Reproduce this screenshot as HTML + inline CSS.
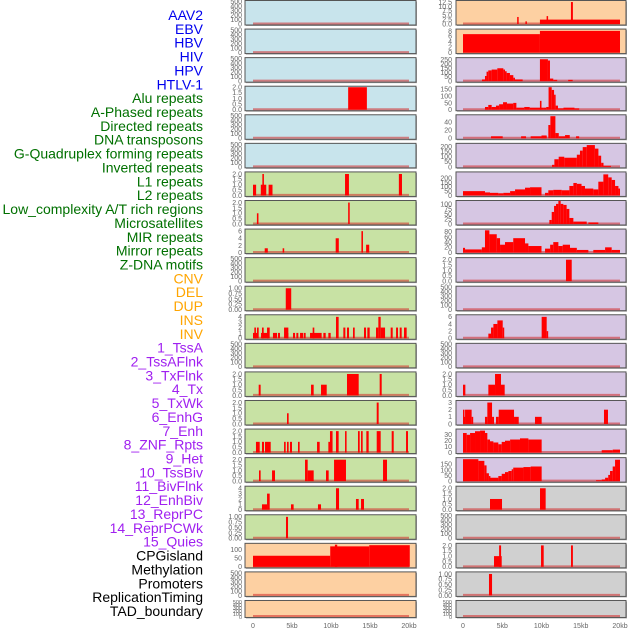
<!DOCTYPE html>
<html><head><meta charset="utf-8">
<style>
html,body{margin:0;padding:0;background:#fff;}
svg{display:block;font-family:"Liberation Sans",sans-serif;}
</style></head>
<body>
<svg id="chart" width="630" height="630" viewBox="0 0 630 630" xmlns="http://www.w3.org/2000/svg"></svg>
<script>
// ---- data ----
const trackLabels = ["AAV2","EBV","HBV","HIV","HPV","HTLV-1","Alu repeats","A-Phased repeats","Directed repeats","DNA transposons","G-Quadruplex forming repeats","Inverted repeats","L1 repeats","L2 repeats","Low_complexity A/T rich regions","Microsatellites","MIR repeats","Mirror repeats","Z-DNA motifs","CNV","DEL","DUP","INS","INV","1_TssA","2_TssAFlnk","3_TxFlnk","4_Tx","5_TxWk","6_EnhG","7_Enh","8_ZNF_Rpts","9_Het","10_TssBiv","11_BivFlnk","12_EnhBiv","13_ReprPC","14_ReprPCWk","15_Quies","CPGisland","Methylation","Promoters","ReplicationTiming","TAD_boundary"];
const labelGroups = ["virus","virus","virus","virus","virus","virus","repeat","repeat","repeat","repeat","repeat","repeat","repeat","repeat","repeat","repeat","repeat","repeat","repeat","sv","sv","sv","sv","sv","hmm","hmm","hmm","hmm","hmm","hmm","hmm","hmm","hmm","hmm","hmm","hmm","hmm","hmm","hmm","other","other","other","other","other"];
const xTickValues = [0,5,10,15,20];
const xTickLabels = ["0","5kb","10kb","15kb","20kb"];

const midGroups = ["virus","virus","virus","virus","virus","virus","repeat","repeat","repeat","repeat","repeat","repeat","repeat","repeat","repeat","repeat","repeat","repeat","repeat","sv","sv","sv"];
const midYmax = [500,500,500,2,500,500,2.1,2.1,6.3,500,1.05,4.2,500,2.1,2.1,2.1,2.1,4.2,1.05,132,500,500];
const midTicks = [
 ["0","100","200","300","400","500"],["0","100","200","300","400","500"],["0","100","200","300","400","500"],
 ["0.0","0.5","1.0","1.5","2.0"],["0","100","200","300","400","500"],["0","100","200","300","400","500"],
 ["0.0","0.5","1.0","1.5","2.0"],["0.0","0.5","1.0","1.5","2.0"],["0","2","4","6"],["0","100","200","300","400","500"],
 ["0.00","0.25","0.50","0.75","1.00"],["0","1","2","3","4"],["0","100","200","300","400","500"],
 ["0.0","0.5","1.0","1.5","2.0"],["0.0","0.5","1.0","1.5","2.0"],["0.0","0.5","1.0","1.5","2.0"],["0.0","0.5","1.0","1.5","2.0"],
 ["0","1","2","3","4"],["0.00","0.25","0.50","0.75","1.00"],["0","50","100"],["0","100","200","300","400","500"],["0","100","200","300","400","500"]];
const midSegs = [
 [],[],[],
 [[12.2,14.6,2]],
 [],[],
 [[0,0.4,1],[1.0,1.7,1],[1.2,1.4,2],[2.0,2.5,1],[11.8,12.3,2],[18.7,19.1,2]],
 [[0.5,0.7,1],[12.2,12.4,2]],
 [[1.5,1.9,1.2],[3.8,4.0,1.2],[10.6,11.0,4],[13.9,14.1,6],[14.5,14.9,2.2]],
 [],
 [[4.2,4.9,1]],
 [[0,0.51,1],[0.17,0.38,2],[0.51,0.73,2],[1.03,1.97,1],[1.15,1.37,2],[1.8,2.14,2],[2.56,3.08,1],[3.2,3.46,1],[3.98,4.53,2],[4.3,4.53,1],[5.13,5.39,1],[5.56,5.81,1],[6.03,6.45,1],[6.54,6.75,1],[7.31,8.8,1],[7.65,7.86,2],[9.02,9.32,1],[9.66,9.96,1],[10.64,10.98,4],[11.58,11.84,2],[12.05,12.31,2],[12.82,13.04,2],[14.23,14.49,2],[14.66,14.96,2],[15.77,16.07,2],[16.07,16.37,4],[16.37,16.93,2],[17.65,17.91,2],[18.34,18.59,2],[18.81,19.06,2],[19.36,19.7,2]],
 [],
 [[0.73,0.98,1],[7.44,7.78,1],[8.72,9.45,1],[12.05,13.55,2],[16.24,16.5,2]],
 [[4.36,4.57,1],[15.86,16.11,2]],
 [[0.38,0.86,1],[1.15,1.41,1],[1.54,2.27,1],[3.98,4.19,1],[4.36,4.57,1],[4.74,5.0,1],[5.77,5.98,1],[8.21,8.55,1],[9.66,9.87,1],[9.87,10.2,2],[10.64,10.98,2],[11.8,12.0,2],[13.46,13.68,2],[13.85,14.06,2],[14.53,14.83,2],[15.86,16.37,2],[17.78,18.04,2],[19.62,19.87,2]],
 [[0.77,0.98,1],[2.44,2.82,1],[6.67,7.01,2],[7.01,7.78,1],[9.36,9.7,1],[10.39,11.92,2],[16.67,17.18,2]],
 [[1.15,1.8,1],[1.8,2.14,3],[4.87,5.21,1],[8.33,8.72,1],[10.64,11.03,4],[13.2,13.55,2],[13.85,14.23,2]],
 [[4.23,4.49,1]],
 [[0,9.9,65],[9.9,14.9,120],[14.9,20.1,127],[10.5,10.8,130]],
 [],[]];

const rightGroups = ["sv","sv","hmm","hmm","hmm","hmm","hmm","hmm","hmm","hmm","hmm","hmm","hmm","hmm","hmm","hmm","hmm","other","other","other","other","other"];
const rightYmax = [12.8,8.3,262,165,56,222,262,112,86,2.1,500,6.3,500,2.1,3.15,38,200,2.1,500,2.1,1.05,500];
const rightTicks = [
 ["0.0","2.5","5.0","7.5","10.0","12.5"],["0","2","4","6","8"],["0","50","100","150","200","250"],["0","50","100","150"],
 ["0","20","40"],["0","50","100","150","200"],["0","50","100","150","200"],["0","25","50","75","100"],
 ["0","20","40","60","80"],["0.0","0.5","1.0","1.5","2.0"],["0","100","200","300","400","500"],["0","2","4","6"],
 ["0","100","200","300","400","500"],["0.0","0.5","1.0","1.5","2.0"],["0","1","2","3"],["0","10","20","30"],
 ["0","50","100","150"],["0.0","0.5","1.0","1.5","2.0"],["0","100","200","300","400","500"],["0.0","0.5","1.0","1.5","2.0"],
 ["0.00","0.25","0.50","0.75","1.00"],["0","100","200","300","400","500"]];
const rightSegs = [
 [[6.9,7.05,4],[7.95,8.1,1.5],[9.8,20,2.5],[10.65,10.8,4.5],[13.75,14.0,12.5]],
 [[0,9.8,6.8],[9.8,20,8]],
 [[2.42,2.8,20],[2.8,3.0,60],[3.0,3.22,110],[3.22,3.65,125],[3.65,4.37,135],[4.37,5.14,150],[5.14,5.35,135],[5.35,5.56,115],[5.56,5.98,95],[5.98,6.41,70],[6.41,6.62,40],[6.62,7.6,20],[9.8,10.82,255],[10.82,11.08,240],[11.08,11.5,30],[11.5,12.0,15],[13.4,13.97,15]],
 [[2.8,3.22,20],[3.22,3.65,35],[3.65,4.2,20],[4.2,4.6,30],[4.6,5.1,40],[5.1,5.6,55],[5.6,6.4,45],[6.4,6.8,50],[6.8,7.8,15],[7.8,8.5,20],[8.5,10.2,15],[9.8,10.0,65],[10.2,10.6,15],[10.6,10.9,20],[10.9,11.3,165],[11.3,11.6,145],[11.6,11.8,110],[11.8,12.1,30],[12.1,12.8,10],[12.8,14.2,15],[14.2,14.8,10]],
 [[3.57,5.06,5],[7.4,8.03,5],[8.62,10.66,5],[10.0,10.66,7],[10.87,11.13,33],[11.13,11.77,55],[11.77,12.2,13],[12.2,13.0,5],[13.0,13.6,8],[14.4,14.8,5]],
 [[11.34,11.64,20],[11.64,12.19,75],[12.19,12.9,100],[12.9,14.5,90],[14.5,14.9,120],[14.9,15.25,160],[15.25,15.76,195],[15.76,16.8,215],[16.8,17.25,180],[17.25,17.6,110],[17.6,17.9,40],[17.9,18.85,10]],
 [[0,2.8,50],[2.8,3.44,35],[3.44,4.5,30],[4.5,5.14,25],[5.14,6.0,30],[6.0,6.63,50],[6.63,7.9,70],[7.9,8.54,90],[8.54,10.0,95],[10.45,10.87,30],[10.87,11.5,60],[11.5,12.57,65],[12.57,13.55,60],[13.55,14.06,110],[14.06,14.5,145],[14.5,15.1,135],[15.1,15.54,110],[15.54,16.6,80],[16.6,17.24,70],[17.24,17.88,160],[17.88,18.5,245],[18.5,18.94,210],[18.94,19.37,180],[19.37,19.8,110],[19.8,20,80]],
 [[11.0,11.3,20],[11.3,11.6,60],[11.6,11.85,90],[11.85,12.15,100],[12.15,12.44,115],[12.44,12.78,100],[12.78,13.2,95],[13.2,13.55,75],[13.55,14.06,30],[14.06,15.76,12],[15.97,17.24,8]],
 [[0,0.26,18],[0.26,2.4,12],[2.4,2.8,20],[2.8,3.36,85],[3.36,4.3,70],[4.3,4.72,55],[4.72,5.35,30],[5.35,6.4,40],[6.4,7.9,55],[7.9,8.33,35],[8.33,10.0,25],[10.45,11.1,15],[11.1,11.5,30],[11.5,12.15,40],[12.15,12.7,25],[12.7,13.63,30],[13.63,14.5,18],[14.5,15.97,10],[16.6,18.1,10],[18.1,18.94,20],[18.94,20,10]],
 [[13.12,13.85,2]],
 [],
 [[3.23,3.57,1.3],[3.57,3.87,3],[3.87,4.38,4],[4.38,5.06,5],[5.06,5.23,3],[10.02,10.66,6],[10.66,10.83,2]],
 [],
 [[0,0.3,1],[3.23,4.08,1],[4.08,4.84,2],[4.84,5.31,1]],
 [[0,0.09,2],[0.09,0.26,1],[0.26,1.1,2],[1.1,1.3,1],[2.8,3.1,1],[3.1,3.7,3],[3.7,3.95,1],[4.2,4.55,1],[4.55,6.5,2],[6.5,7.1,1],[9.17,10.02,1],[17.96,18.47,2]],
 [[0,0.47,33],[0.47,0.9,30],[0.9,1.53,33],[1.53,2.17,36],[2.17,2.8,37],[2.8,3.1,33],[3.1,3.44,22],[3.44,3.87,19],[3.87,4.5,17],[4.5,4.93,14],[4.93,5.35,18],[5.35,6.0,20],[6.0,7.26,22],[7.26,8.33,24],[8.33,10.02,22],[17.67,19.07,4],[19.07,20,5]],
 [[0,1.96,195],[1.96,2.72,180],[2.72,3.0,140],[3.0,3.3,70],[3.3,3.44,45],[3.44,4.5,30],[4.5,4.93,45],[4.93,5.35,65],[5.35,5.78,80],[5.78,6.2,90],[6.2,6.4,105],[6.4,7.7,120],[7.7,8.62,125],[8.62,10.02,130],[16.95,17.67,8],[17.67,18.1,15],[18.1,18.5,30],[18.5,18.73,55],[18.73,19.07,90],[19.07,19.37,130],[19.37,20,190]],
 [[3.44,4.97,1],[9.81,10.53,2]],
 [],
 [[3.95,4.93,1],[4.6,4.85,2],[9.94,10.28,2],[13.76,14.0,2]],
 [[3.31,3.7,1]],
 []];

// ---- layout ----
const NS = "http://www.w3.org/2000/svg";
const svg = document.getElementById("chart");
const groupFill = {virus:"#c8e4ec",repeat:"#c8e2a4",sv:"#fdd0a2",hmm:"#d6c6e3",other:"#d0d0d0"};
const labelColor = {virus:"#0000ee",repeat:"#007000",sv:"#ffa500",hmm:"#a020f0",other:"#000000"};
const cols = [
 {x:245, w:171, x0:253, x20:409, tickX:242, groups:midGroups, ymax:midYmax, ticks:midTicks, segs:midSegs, name:"left"},
 {x:456, w:170, x0:463, x20:620, tickX:452, groups:rightGroups, ymax:rightYmax, ticks:rightTicks, segs:rightSegs, name:"right"}];
function mk(tag, attrs, parent){ const e=document.createElementNS(NS,tag); for(const k in attrs) e.setAttribute(k,attrs[k]); (parent||svg).appendChild(e); return e; }

trackLabels.forEach((t,i)=>{
  const el = mk("text",{x:203,y:15+i*13.86+5,"text-anchor":"end","font-size":"14",fill:labelColor[labelGroups[i]]});
  el.textContent = t;
  
  
});

cols.forEach(c=>{
  const xs = kb => c.x0 + (kb/20)*(c.x20-c.x0);
  for(let i=0;i<22;i++){
    const top = i*28.57 + 0.5;
    const h = i===21 ? 17 : 24.5;
    const g = mk("g",{});
    
    
    mk("rect",{x:c.x+1,y:top+1,width:c.w,height:h,fill:"#a8a8a8"},g);
    mk("rect",{x:c.x,y:top,width:c.w,height:h,fill:groupFill[c.groups[i]],stroke:"#555",'stroke-width':1},g);
    const yTop = top+1, yBot = top+h-1;
    const ys = v => yBot - (v/c.ymax[i])*(yBot-yTop);
    const tl = c.ticks[i];
    const fs = h<20 ? 5.5 : 7;
    tl.forEach(lab=>{
      const v = parseFloat(lab);
      const t = mk("text",{x:c.tickX,y:ys(v)+2.4,"text-anchor":"end","font-size":fs,fill:"#666"},g);
      t.textContent = lab;
      
      
    });
    const bl = mk("line",{x1:xs(0),x2:xs(20),y1:yBot-0.5,y2:yBot-0.5,stroke:"rgba(210,40,40,0.55)","stroke-width":2},g);
    
    
    c.segs[i].forEach(s=>{
      const x1 = xs(s[0]), x2 = xs(s[1]);
      const yv = ys(s[2]);
      const r = mk("rect",{x:x1,y:yv,width:Math.max(1.5,x2-x1),height:yBot-yv,fill:"#ff0000"},g);
      
      
    });
  }
  xTickValues.forEach((v,j)=>{
    const t = mk("text",{x:xs(v),y:628,"text-anchor":"middle","font-size":"7",fill:"#666"});
    t.textContent = xTickLabels[j];
    
    
  });
});
</script>
</body></html>
